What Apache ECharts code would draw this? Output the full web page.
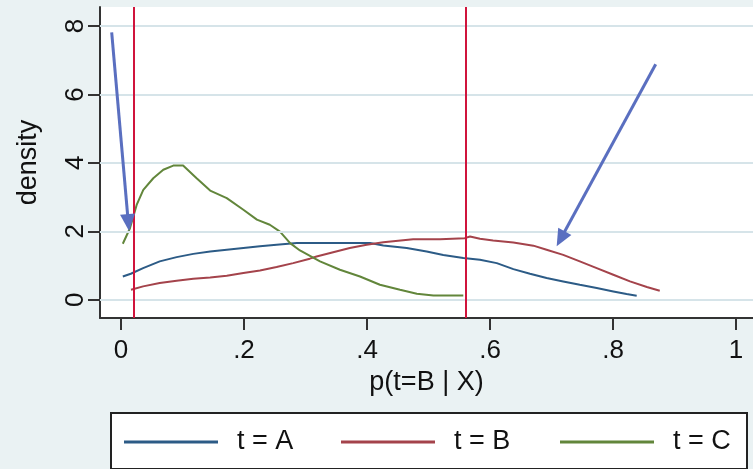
<!DOCTYPE html>
<html>
<head>
<meta charset="utf-8">
<script src="https://cdn.jsdelivr.net/npm/echarts@6/dist/echarts.min.js"></script>
<style>
html,body{margin:0;padding:0;background:#eaf2f3;}
#chart{width:753px;height:469px;}
</style>
</head>
<body>
<div id="chart"></div>
<script>
// ---- data ----
const seriesNames = ['t = A', 't = B', 't = C'];
const xA = [0.003,0.016,0.036,0.063,0.0905,0.1176,0.145,0.172,0.199,0.226,0.253,0.286,0.34,0.405,0.4265,0.4646,0.497,0.524,0.5566,0.5837,0.611,0.638,0.665,0.692,0.719,0.746,0.7735,0.8005,0.822,0.8385];
const yA = [0.68,0.76,0.925,1.12,1.245,1.34,1.41,1.46,1.51,1.56,1.605,1.655,1.655,1.655,1.585,1.51,1.41,1.31,1.22,1.17,1.07,0.895,0.76,0.633,0.535,0.438,0.34,0.243,0.166,0.117];
const xB = [0.0163,0.036,0.063,0.0905,0.1176,0.145,0.172,0.199,0.226,0.253,0.28,0.307,0.318,0.345,0.372,0.3995,0.4265,0.475,0.5187,0.559,0.5675,0.5837,0.605,0.638,0.6705,0.692,0.719,0.746,0.7735,0.8005,0.8276,0.855,0.876];
const yB = [0.29,0.39,0.49,0.555,0.613,0.65,0.70,0.78,0.855,0.955,1.07,1.2,1.265,1.39,1.51,1.605,1.68,1.77,1.77,1.80,1.85,1.78,1.73,1.67,1.58,1.46,1.31,1.12,0.925,0.73,0.535,0.37,0.263];
const xC = [0.003,0.0146,0.0255,0.0363,0.0525,0.0688,0.085,0.101,0.123,0.145,0.172,0.199,0.221,0.242,0.2585,0.275,0.291,0.3236,0.356,0.3886,0.421,0.4537,0.481,0.508,0.5566];
const yC = [1.635,2.09,2.77,3.21,3.55,3.80,3.92,3.92,3.55,3.19,2.97,2.63,2.34,2.19,1.99,1.655,1.44,1.12,0.876,0.68,0.438,0.292,0.175,0.126,0.126];
const refLinesX = [0.0174, 0.5605];
const xTickValues = [0, 0.2, 0.4, 0.6, 0.8, 1];
const xTickLabels = ['0', '.2', '.4', '.6', '.8', '1'];
const yTickValues = [0, 2, 4, 6, 8];
const yTickLabels = ['0', '2', '4', '6', '8'];
const arrows = [
  [[-0.0151, 7.816], [0.0119, 2.257]],
  [[0.8694, 6.882], [0.715, 1.781]]
];
const xTitle = 'p(t=B | X)';
const yTitle = 'density';

// ---- chart ----
const colors = ['#2c5b86', '#a4434b', '#62863b'];
const FONT = '"Liberation Sans", Arial, sans-serif';
const pair = (xs, ys) => xs.map((x, i) => [x, ys[i]]);

const chart = echarts.init(document.getElementById('chart'), null, {renderer: 'canvas'});
const legendBase = (name, left) => ({
  data: [name], left: left, top: 427, padding: 0, orient: 'horizontal',
  itemWidth: 94, itemHeight: 3, icon: 'rect', selectedMode: false,
  textStyle: {fontSize: 27, fontFamily: FONT, color: '#111', lineHeight: 30, padding: [0,0,0,14]}
});
const lineSeries = (i, xs, ys) => ({
  type: 'line', name: seriesNames[i], data: pair(xs, ys), showSymbol: false, z: 3,
  itemStyle: {color: colors[i]}, lineStyle: {width: 2, color: colors[i]}
});

chart.setOption({
  animation: false,
  backgroundColor: '#eaf2f3',
  grid: {left: 100, top: 7, right: 0, bottom: 151, show: true, backgroundColor: '#ffffff', borderWidth: 0},
  graphic: [{
    type: 'rect', left: 110, top: 412, z: -1,
    shape: {width: 636, height: 56},
    style: {fill: '#ffffff', stroke: '#222', lineWidth: 2}
  }],
  legend: [legendBase(seriesNames[0], 124), legendBase(seriesNames[1], 341), legendBase(seriesNames[2], 560)],
  xAxis: {
    type: 'value', min: -0.0341, max: 1.0276,
    name: xTitle, nameLocation: 'middle', nameGap: 51,
    nameTextStyle: {fontSize: 27, fontFamily: FONT, color: '#111'},
    axisLine: {show: true, onZero: false, lineStyle: {color: '#333', width: 2}},
    axisTick: {show: true, length: 12, customValues: xTickValues, lineStyle: {color: '#333', width: 2}},
    axisLabel: {customValues: xTickValues, margin: 20, fontSize: 26, fontFamily: FONT, color: '#111',
      formatter: v => xTickLabels[xTickValues.indexOf(v)]},
    splitLine: {show: false}
  },
  yAxis: {
    type: 'value', min: -0.534, max: 8.555,
    name: yTitle, nameLocation: 'middle', nameGap: 58, nameRotate: 90,
    nameTextStyle: {fontSize: 27, fontFamily: FONT, color: '#111'},
    axisLine: {show: true, onZero: false, lineStyle: {color: '#333', width: 2}},
    axisTick: {show: true, length: 12, customValues: yTickValues, lineStyle: {color: '#333', width: 2}},
    axisLabel: {customValues: yTickValues, rotate: 90, margin: 11, fontSize: 26, fontFamily: FONT, color: '#111',
      formatter: v => yTickLabels[yTickValues.indexOf(v)]},
    splitLine: {show: false}
  },
  series: [
    {
      type: 'line', name: '__grid', data: [], z: 1, silent: true,
      markLine: {silent: true, symbol: 'none', label: {show: false},
        lineStyle: {color: '#d6e4e9', width: 2, type: 'solid'},
        data: yTickValues.map(v => ({yAxis: v}))}
    },
    lineSeries(0, xA, yA),
    lineSeries(1, xB, yB),
    lineSeries(2, xC, yC),
    {
      type: 'line', name: '__ref', data: [], z: 4, silent: true,
      markLine: {silent: true, symbol: 'none', label: {show: false},
        lineStyle: {color: '#d0143c', width: 2, type: 'solid'},
        data: refLinesX.map(v => ({xAxis: v}))}
    },
    {
      type: 'line', name: '__arrows', data: [], z: 5, silent: true,
      markLine: {silent: true, symbol: ['none', 'triangle'], symbolSize: [15, 17], label: {show: false},
        lineStyle: {color: '#5a6fc0', width: 3, type: 'solid'},
        data: arrows.map(a => [{coord: a[0]}, {coord: a[1]}])}
    }
  ]
});
</script>
</body>
</html>
